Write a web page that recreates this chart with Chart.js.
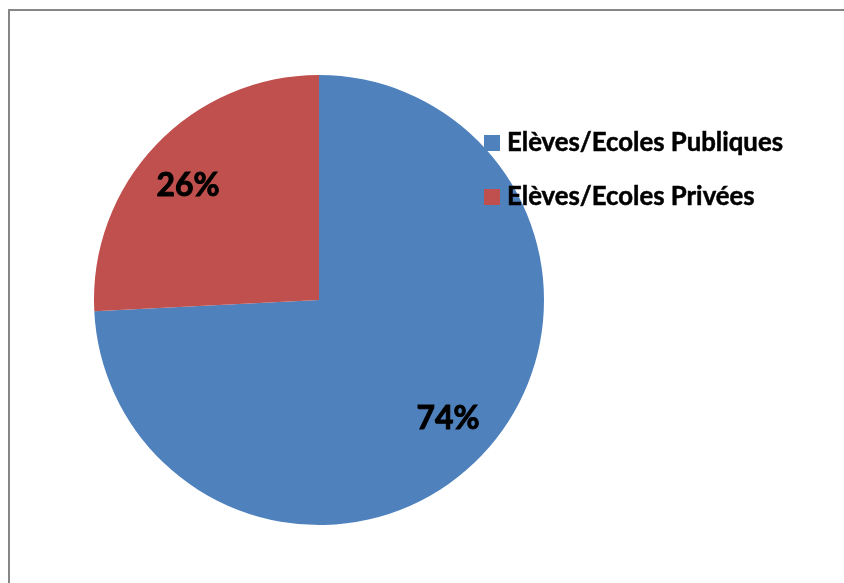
<!DOCTYPE html>
<html>
<head>
<meta charset="utf-8">
<script src="https://cdn.jsdelivr.net/npm/chart.js@4/dist/chart.umd.min.js"></script>
<style>
html,body{margin:0;padding:0;background:#fff;}
#wrap{width:844px;height:583px;position:relative;}
</style>
</head>
<body>
<div id="wrap"><canvas id="c" width="844" height="583"></canvas></div>
<script>
const categories = ["Elèves/Ecoles Publiques", "Elèves/Ecoles Privées"];
const values = [74.2, 25.8];
const colors = ["#4F81BD", "#C0504D"];

function fitFont(ctx, text, targetW, base, weight, family) {
  ctx.font = weight + " " + base + "px " + family;
  const w = ctx.measureText(text).width;
  return base * targetW / w;
}

const labelShift = [[3, -2], [-5, 5]];

const decor = {
  id: "decor",
  beforeDraw(chart) {
    const ctx = chart.ctx;
    ctx.save();
    ctx.fillStyle = "#fff";
    ctx.fillRect(0, 0, chart.width, chart.height);
    ctx.strokeStyle = "#868686";
    ctx.lineWidth = 2;
    ctx.beginPath();
    ctx.moveTo(9, chart.height + 5);
    ctx.lineTo(9, 10);
    ctx.lineTo(chart.width + 5, 10);
    ctx.stroke();
    ctx.restore();
  },
  afterDraw(chart) {
    const ctx = chart.ctx;
    const meta = chart.getDatasetMeta(0);
    const fam = "Lato, 'Open Sans', sans-serif";
    ctx.save();
    const total = values.reduce((a, b) => a + b, 0);
    meta.data.forEach((arc, i) => {
      const mid = (arc.startAngle + arc.endAngle) / 2;
      const r = arc.outerRadius * 0.773;
      const x = arc.x + Math.cos(mid) * r + labelShift[i][0];
      const y = arc.y + Math.sin(mid) * r + labelShift[i][1];
      const txt = Math.round(values[i] / total * 100) + "%";
      const fs = fitFont(ctx, txt, 63, 32, "bold", fam);
      ctx.font = "bold " + fs + "px " + fam;
      ctx.fillStyle = "#000";
      ctx.strokeStyle = "#000";
      ctx.lineWidth = 1;
      ctx.textAlign = "center";
      ctx.textBaseline = "middle";
      ctx.fillText(txt, x, y + 1);
      ctx.strokeText(txt, x, y + 1);
    });
    const lx = 484, ly = [135, 189];
    const fsL = fitFont(ctx, categories[0], 276, 22, "bold", fam);
    categories.forEach((c, i) => {
      ctx.fillStyle = colors[i];
      ctx.fillRect(lx, ly[i], 16, 16);
      ctx.fillStyle = "#000";
      ctx.strokeStyle = "#000";
      ctx.lineWidth = 0.5;
      ctx.font = "bold " + fsL + "px " + fam;
      ctx.textAlign = "left";
      ctx.textBaseline = "alphabetic";
      ctx.fillText(c, 507, ly[i] + 16);
      ctx.strokeText(c, 507, ly[i] + 16);
    });
    ctx.restore();
  }
};

new Chart(document.getElementById("c"), {
  type: "pie",
  data: {
    labels: categories,
    datasets: [{
      data: values,
      backgroundColor: colors,
      borderWidth: 0,
      hoverOffset: 0
    }]
  },
  options: {
    responsive: false,
    animation: false,
    events: [],
    layout: { padding: { left: 94, right: 300, top: 75, bottom: 58 } },
    plugins: { legend: { display: false }, tooltip: { enabled: false } }
  },
  plugins: [decor]
});
</script>
</body>
</html>
